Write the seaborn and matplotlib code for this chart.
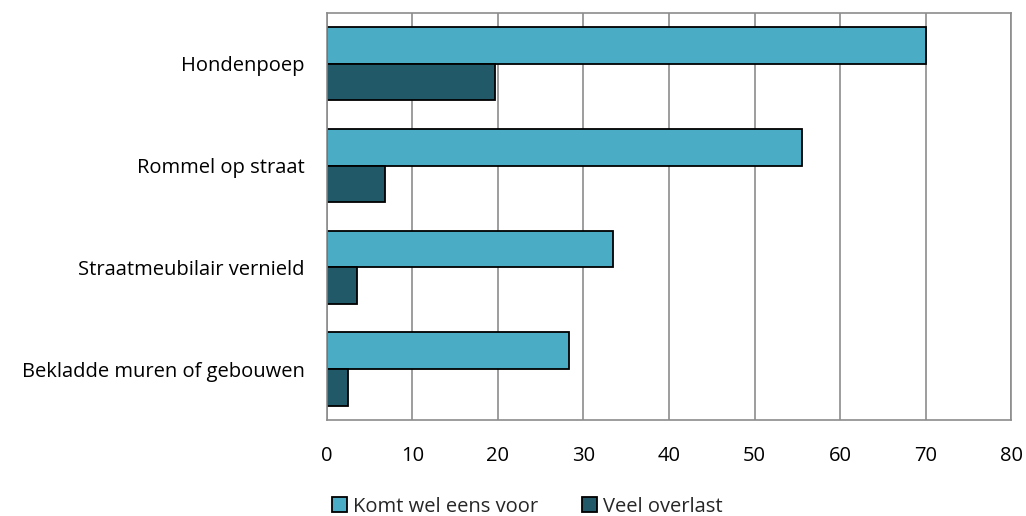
import matplotlib
matplotlib.use("Agg")
import matplotlib.pyplot as plt
from matplotlib.patches import Patch
import seaborn as sns
import pandas as pd

# Data
categories = ["Hondenpoep", "Rommel op straat", "Straatmeubilair vernield",
              "Bekladde muren of gebouwen"]
series = ["Komt wel eens voor", "Veel overlast"]
komt_voor = [70.1, 55.6, 33.4, 28.3]
veel_overlast = [19.6, 6.8, 3.5, 2.4]
xticks = [0, 10, 20, 30, 40, 50, 60, 70, 80]

colors = {"Komt wel eens voor": "#4BACC6", "Veel overlast": "#215968"}

df = pd.DataFrame({
    "categorie": categories * 2,
    "reeks": [series[0]] * len(categories) + [series[1]] * len(categories),
    "waarde": komt_voor + veel_overlast,
})

sns.set_theme(style="white")
plt.rcParams["font.family"] = ["Open Sans", "DejaVu Sans"]

fig = plt.figure(figsize=(10.26, 5.16), dpi=100)
ax = fig.add_axes([0.3187, 0.186, 0.6667, 0.789])

sns.barplot(data=df, y="categorie", x="waarde", hue="reeks", orient="h",
            palette=colors, order=categories, hue_order=series,
            width=0.72, edgecolor="black", linewidth=1.3, saturation=1,
            legend=False, ax=ax)

ax.set_xlim(0, 80)
ax.set_xticks(xticks)
ax.set_xticklabels([str(t) for t in xticks])
ax.set_ylim(len(categories) - 0.5, -0.5)
ax.set_xlabel("")
ax.set_ylabel("")
ax.xaxis.grid(True, color="#8c8c8c", linewidth=1.2)
ax.set_axisbelow(True)
for s in ax.spines.values():
    s.set_color("#8c8c8c")
    s.set_linewidth(1.2)
ax.tick_params(axis="x", length=0, pad=19, labelsize=14.5, colors="black")
ax.tick_params(axis="y", length=0, pad=16, labelsize=14.5, colors="black")

handles = [Patch(facecolor=colors[s], edgecolor="black", linewidth=1.3, label=s)
           for s in series]
fig.legend(handles=handles, loc="center", bbox_to_anchor=(0.514, 0.018),
           ncol=2, frameon=False, fontsize=14.5, handlelength=0.75,
           handleheight=0.75, handletextpad=0.3, columnspacing=2.2,
           borderpad=0)

fig.savefig("out.png", dpi=100)
